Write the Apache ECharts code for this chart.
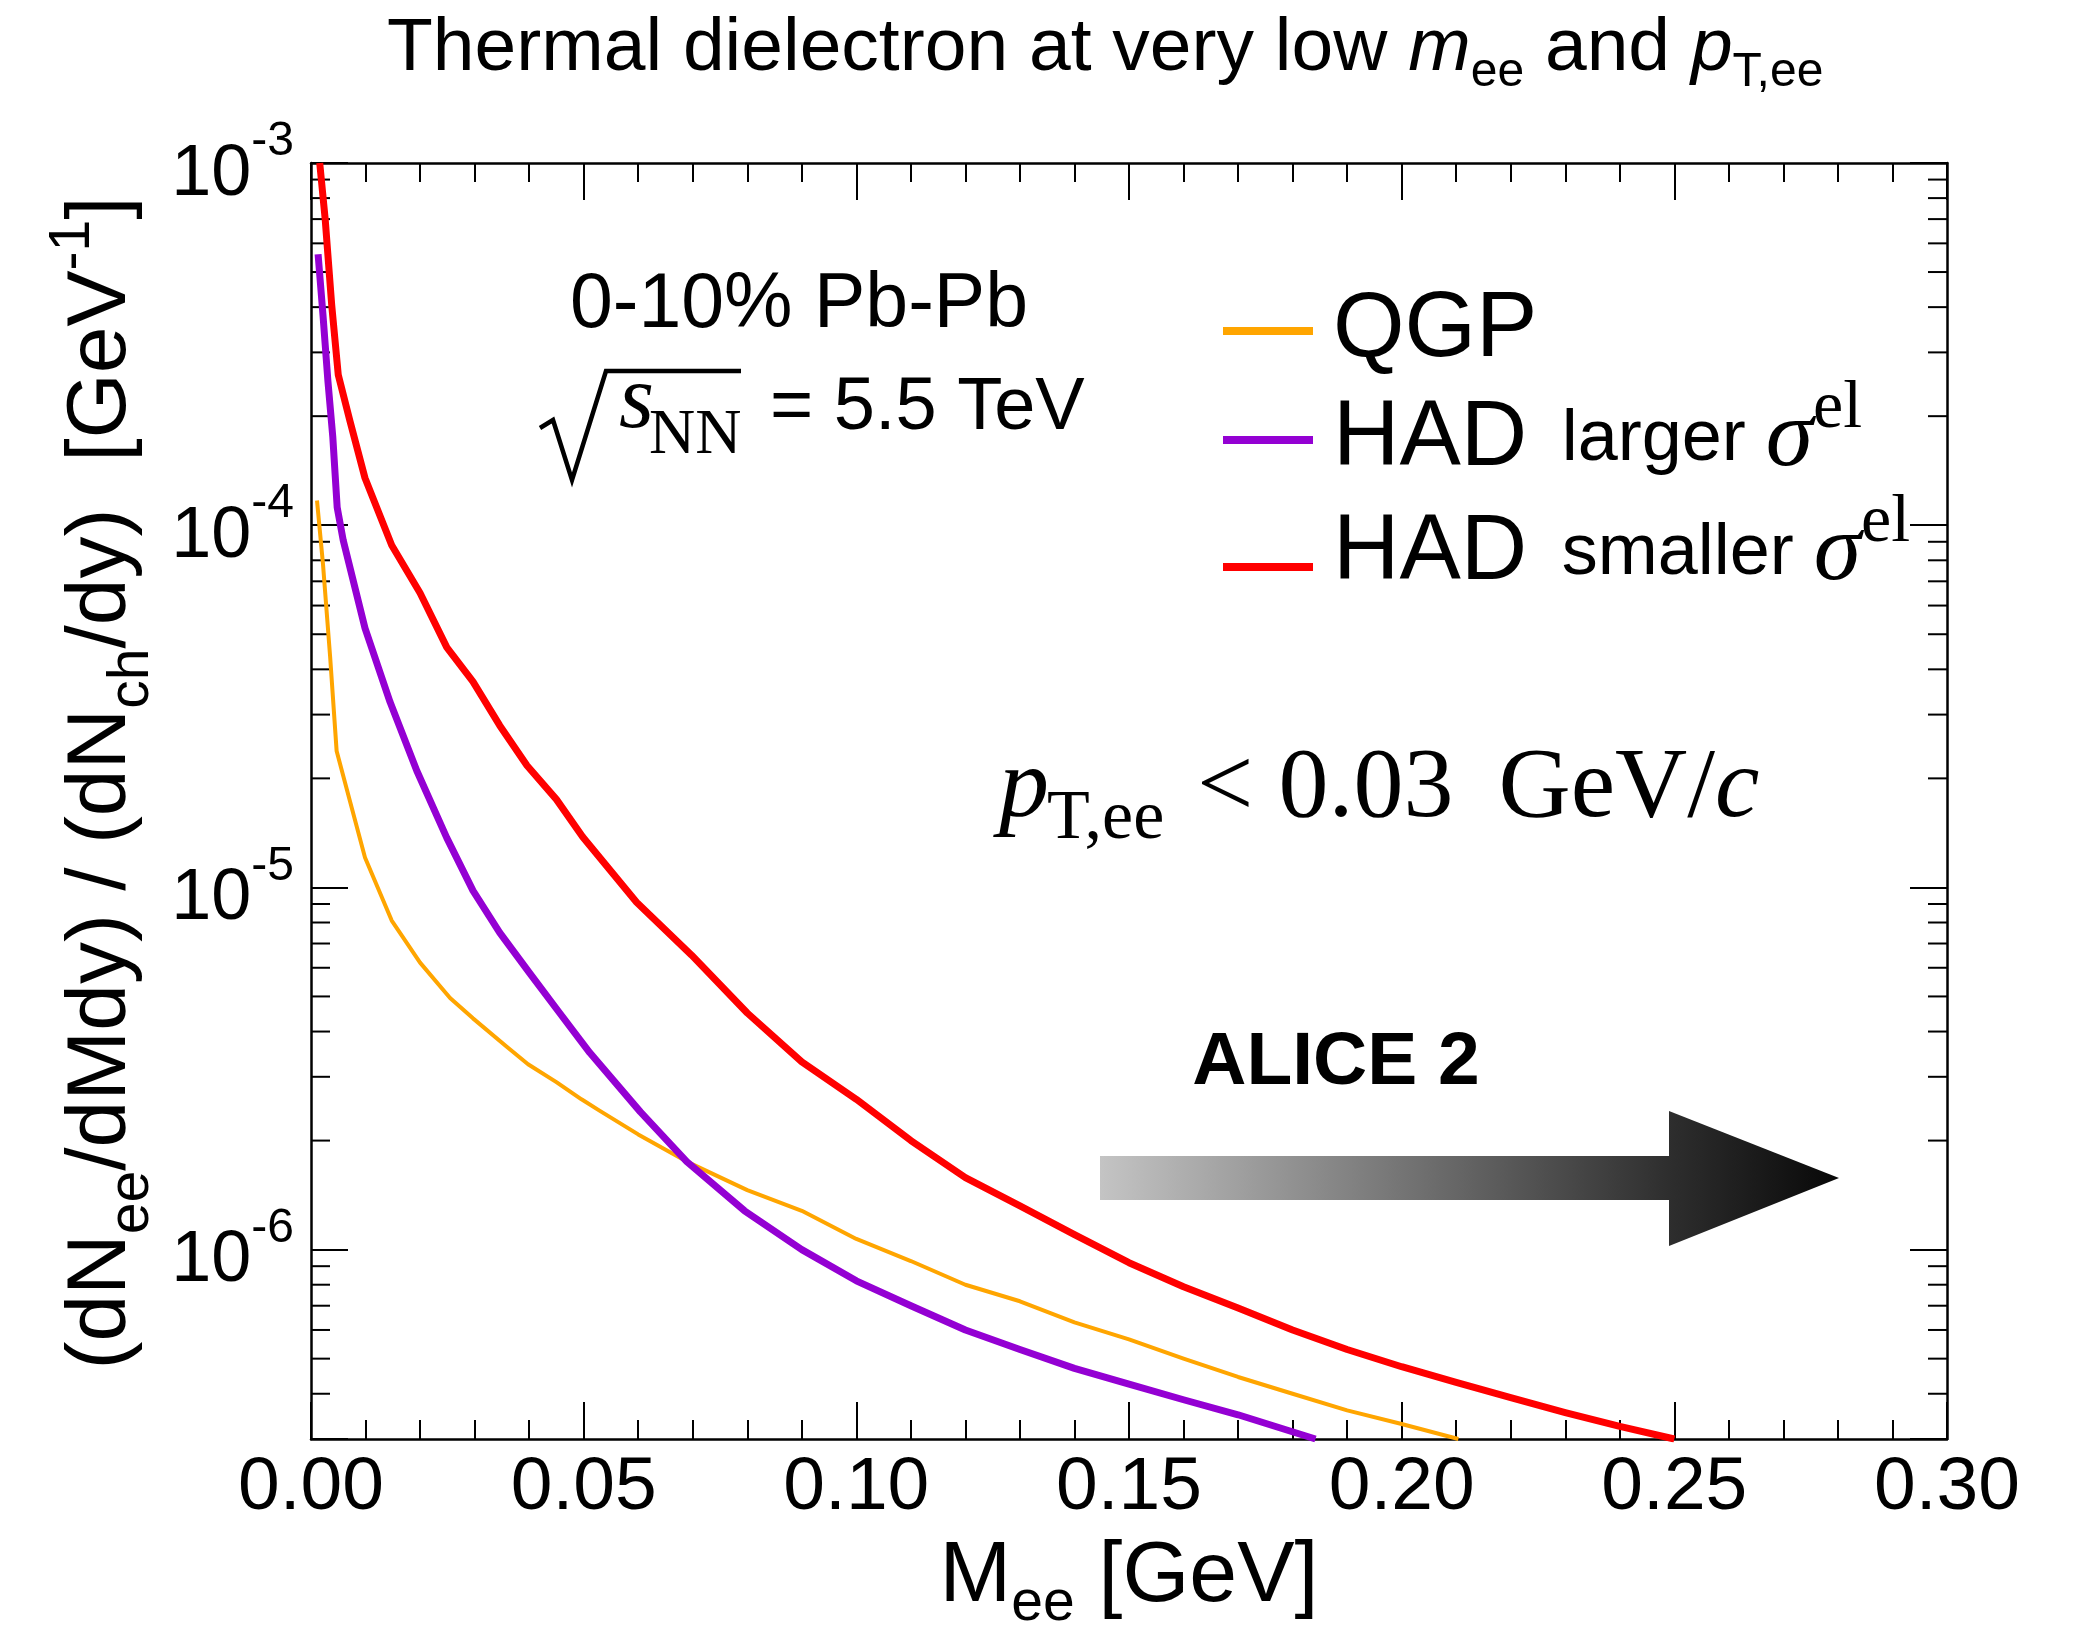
<!DOCTYPE html>
<html><head><meta charset="utf-8">
<script src="https://cdn.jsdelivr.net/npm/echarts@6/dist/echarts.min.js"></script>
<style>html,body{margin:0;padding:0;background:#fff}#c{width:2074px;height:1629px}</style>
</head><body><div id="c"></div>
<script>
// ---------- data ----------
const xTickLabels = ['0.00', '0.05', '0.10', '0.15', '0.20', '0.25', '0.30'];
const yDecades = [-6, -5, -4, -3];
const yMinorTicks = [4e-7, 5e-7, 6e-7, 7e-7, 8e-7, 9e-7,
  2e-6, 3e-6, 4e-6, 5e-6, 6e-6, 7e-6, 8e-6, 9e-6,
  2e-5, 3e-5, 4e-5, 5e-5, 6e-5, 7e-5, 8e-5, 9e-5,
  2e-4, 3e-4, 4e-4, 5e-4, 6e-4, 7e-4, 8e-4, 9e-4];

const seriesNames = ['QGP', 'HAD larger σel', 'HAD smaller σel'];

const mQGP = [0.0011, 0.0022, 0.0035, 0.0047, 0.0071, 0.0099, 0.0148, 0.020, 0.0255, 0.0297, 0.0359, 0.0398, 0.045, 0.0496, 0.0529, 0.060, 0.0689, 0.080, 0.090, 0.100, 0.110, 0.120, 0.130, 0.140, 0.150, 0.160, 0.170, 0.180, 0.190, 0.200, 0.2104];
const yQGP = [1.17e-4, 7.8e-5, 4.35e-5, 2.38e-5, 1.74e-5, 1.21e-5, 8.1e-6, 6.2e-6, 4.95e-6, 4.35e-6, 3.63e-6, 3.25e-6, 2.9e-6, 2.6e-6, 2.42e-6, 2.08e-6, 1.75e-6, 1.46e-6, 1.28e-6, 1.07e-6, 9.3e-7, 8.0e-7, 7.2e-7, 6.3e-7, 5.65e-7, 5.0e-7, 4.45e-7, 4.0e-7, 3.6e-7, 3.3e-7, 3.0e-7];

const mHADlarger = [0.0013, 0.0022, 0.0031, 0.0040, 0.0048, 0.0059, 0.0099, 0.0145, 0.0194, 0.0249, 0.0297, 0.0346, 0.0401, 0.0456, 0.0511, 0.0604, 0.0689, 0.0795, 0.090, 0.100, 0.110, 0.120, 0.130, 0.140, 0.150, 0.160, 0.170, 0.1842];
const yHADlarger = [5.6e-4, 3.8e-4, 2.5e-4, 1.75e-4, 1.12e-4, 9.1e-5, 5.2e-5, 3.25e-5, 2.1e-5, 1.37e-5, 9.8e-6, 7.5e-6, 5.8e-6, 4.5e-6, 3.5e-6, 2.4e-6, 1.75e-6, 1.28e-6, 1.0e-6, 8.2e-7, 7.0e-7, 6.0e-7, 5.3e-7, 4.7e-7, 4.25e-7, 3.85e-7, 3.5e-7, 3.0e-7];

const mHADsmaller = [0.0016, 0.0026, 0.0038, 0.0050, 0.0071, 0.0099, 0.0148, 0.020, 0.0249, 0.0297, 0.0346, 0.0396, 0.045, 0.0498, 0.0597, 0.0698, 0.080, 0.090, 0.100, 0.110, 0.120, 0.130, 0.140, 0.150, 0.160, 0.170, 0.180, 0.190, 0.200, 0.210, 0.220, 0.230, 0.240, 0.250];
const yHADsmaller = [1.0e-3, 7.0e-4, 4.05e-4, 2.6e-4, 1.95e-4, 1.35e-4, 8.8e-5, 6.5e-5, 4.6e-5, 3.7e-5, 2.8e-5, 2.17e-5, 1.75e-5, 1.38e-5, 9.1e-6, 6.5e-6, 4.5e-6, 3.3e-6, 2.6e-6, 2.0e-6, 1.58e-6, 1.32e-6, 1.1e-6, 9.2e-7, 7.9e-7, 6.9e-7, 6.0e-7, 5.3e-7, 4.75e-7, 4.3e-7, 3.9e-7, 3.55e-7, 3.25e-7, 3.0e-7];

// ---------- styling ----------
const SANS = "'Liberation Sans', Arial, Helvetica, sans-serif";
const SERIF = "'Liberation Serif', 'Times New Roman', Times, serif";
const colors = ['#FFA500', '#9400D3', '#FF0000'];
const widths = [4, 7, 7];

const pairs = (xs, ys) => xs.map((x, i) => [x, ys[i]]);
const seriesData = [pairs(mQGP, yQGP), pairs(mHADlarger, yHADlarger), pairs(mHADsmaller, yHADsmaller)];

const chart = echarts.init(document.getElementById('c'), null, {renderer: 'canvas', width: 2074, height: 1629});

const legendRich = {
  big: {fontSize: 92, fontFamily: SANS, lineHeight: 130, color: '#000'},
  mid: {fontSize: 72, fontFamily: SANS, lineHeight: 130, color: '#000'},
  sig: {fontSize: 96, fontFamily: SERIF, fontStyle: 'italic', lineHeight: 130, color: '#000'},
  sup: {fontSize: 68, fontFamily: SERIF, verticalAlign: 'top', lineHeight: 130, color: '#000'}
};
const legendText = {
  'QGP': '{big|QGP}',
  'HAD larger σel': '{big|HAD}{mid|\u2009 larger }{sig|σ}{sup|el}',
  'HAD smaller σel': '{big|HAD}{mid|\u2009 smaller }{sig|σ}{sup|el}'
};
const legendTops = [285, 375, 489];
const legendPads = [[0, 0, 0, 15], [0, 0, 0, 15], [0, 0, 26, 15]];

const axisLineStyle = {color: '#000', width: 2.5};
const tickStyle = {color: '#000', width: 2};

const option = {
  animation: false,
  backgroundColor: '#fff',
  textStyle: {fontFamily: SANS, color: '#000'},
  title: {
    text: '{n|Thermal dielectron at very low }{i|m}{s|ee}{n| and }{i|p}{s|T,ee}',
    left: 387, top: 1, padding: 0,
    textStyle: {
      rich: {
        n: {fontSize: 75, fontFamily: SANS, fontWeight: 'normal', lineHeight: 96, color: '#000'},
        i: {fontSize: 75, fontFamily: SANS, fontStyle: 'italic', fontWeight: 'normal', lineHeight: 96, color: '#000'},
        s: {fontSize: 48, fontFamily: SANS, fontWeight: 'normal', verticalAlign: 'bottom', lineHeight: 96, color: '#000'}
      }
    }
  },
  legend: seriesNames.map((nm, i) => ({
    data: [nm], orient: 'vertical', left: 1223, top: legendTops[i], padding: 0,
    icon: 'rect', itemWidth: 90, itemHeight: 8, selectedMode: false,
    formatter: n => legendText[n],
    textStyle: {color: '#000', fontFamily: SANS, padding: legendPads[i], rich: legendRich}
  })),
  grid: {left: 311, top: 163, width: 1636, height: 1276, containLabel: false, outerBoundsMode: 'none'},
  xAxis: [{
    type: 'value', position: 'bottom', min: 0, max: 0.3, interval: 0.05,
    axisLine: {show: true, onZero: false, lineStyle: axisLineStyle},
    axisTick: {show: true, inside: true, length: 37, lineStyle: tickStyle},
    minorTick: {show: true, splitNumber: 5, length: 19, lineStyle: tickStyle},
    splitLine: {show: false},
    axisLabel: {fontSize: 75, fontFamily: SANS, color: '#000', margin: 12,
      formatter: v => xTickLabels[Math.round(v / 0.05)] || ''},
    name: '{m|M}{sub|ee}{m| [GeV]}', nameLocation: 'middle', nameGap: 82,
    nameTextStyle: {rich: {
      m: {fontSize: 86, fontFamily: SANS, lineHeight: 112, color: '#000'},
      sub: {fontSize: 57, fontFamily: SANS, verticalAlign: 'bottom', lineHeight: 112, color: '#000'}
    }}
  }, {
    type: 'value', position: 'top', min: 0, max: 0.3, interval: 0.05,
    axisLine: {show: true, onZero: false, lineStyle: axisLineStyle},
    axisTick: {show: true, inside: true, length: 37, lineStyle: tickStyle},
    minorTick: {show: true, splitNumber: 5, length: 19, lineStyle: tickStyle},
    splitLine: {show: false}, axisLabel: {show: false}
  }],
  yAxis: [{
    type: 'log', logBase: 10, position: 'left', min: 3e-7, max: 1e-3,
    axisLine: {show: true, onZero: false, lineStyle: axisLineStyle},
    axisTick: {show: true, inside: true, length: 37, lineStyle: tickStyle},
    minorTick: {show: false},
    splitLine: {show: false},
    axisLabel: {
      margin: 17, color: '#000',
      formatter: v => {
        const l = Math.log10(v), e = Math.round(l);
        if (Math.abs(l - e) > 1e-6 || yDecades.indexOf(e) < 0) return '';
        return '{b|10}{s|' + e + '}';
      },
      rich: {
        b: {fontSize: 72, fontFamily: SANS, lineHeight: 96, verticalAlign: 'bottom', color: '#000'},
        s: {fontSize: 48, fontFamily: SANS, lineHeight: 96, verticalAlign: 'top', padding: [3, 0, 0, 0], color: '#000'}
      }
    },
    name: '{m|(dN}{sub|ee}{m|/dMdy) / (dN}{sub|ch}{m|/dy)  [GeV}{sup|-1}{m|]}',
    nameLocation: 'middle', nameGap: 126, nameRotate: 90,
    nameTextStyle: {padding: [0, 0, 0, 36], rich: {
      m: {fontSize: 84, fontFamily: SANS, lineHeight: 116, color: '#000'},
      sub: {fontSize: 57, fontFamily: SANS, verticalAlign: 'bottom', lineHeight: 116, color: '#000'},
      sup: {fontSize: 57, fontFamily: SANS, verticalAlign: 'top', lineHeight: 116, color: '#000'}
    }}
  }, {
    type: 'log', logBase: 10, position: 'right', min: 3e-7, max: 1e-3,
    axisLine: {show: true, onZero: false, lineStyle: axisLineStyle},
    axisTick: {show: true, inside: true, length: 37, lineStyle: tickStyle},
    minorTick: {show: false}, splitLine: {show: false}, axisLabel: {show: false}
  }],
  series: [
    ...seriesNames.map((nm, i) => ({
      name: nm, type: 'line', xAxisIndex: 0, yAxisIndex: 0,
      data: seriesData[i], showSymbol: false, symbol: 'none', smooth: false,
      color: colors[i],
      lineStyle: {color: colors[i], width: widths[i], join: 'round'},
      z: 3 + i
    })),
    {
      name: 'yMinorTicks', type: 'custom', xAxisIndex: 0, yAxisIndex: 0, silent: true, z: 2,
      data: yMinorTicks.map(v => [0, v]),
      renderItem: (params, api) => {
        const v = api.value(1);
        const pl = api.coord([0, v]);
        const pr = api.coord([0.3, v]);
        return {type: 'group', children: [
          {type: 'line', shape: {x1: pl[0], y1: pl[1], x2: pl[0] + 19, y2: pl[1]}, style: {stroke: '#000', lineWidth: 2}},
          {type: 'line', shape: {x1: pr[0] - 19, y1: pr[1], x2: pr[0], y2: pr[1]}, style: {stroke: '#000', lineWidth: 2}}
        ]};
      }
    }
  ],
  graphic: [
    {type: 'text', x: 799, y: 306, style: {text: '0-10% Pb-Pb', fontSize: 77, fontFamily: SANS, fill: '#000', align: 'center', verticalAlign: 'middle'}},
    {type: 'polyline', shape: {points: [[540, 428], [553, 420], [572, 480], [606, 371], [741, 371]]}, style: {stroke: '#000', lineWidth: 4.5, fill: null, lineJoin: 'miter'}},
    {type: 'text', x: 619, y: 403, style: {text: 's', fontSize: 90, fontFamily: SERIF, fontStyle: 'italic', fill: '#000', align: 'left', verticalAlign: 'middle'}},
    {type: 'text', x: 649, y: 436, style: {text: 'NN', fontSize: 64, fontFamily: SERIF, fill: '#000', align: 'left', verticalAlign: 'middle'}},
    {type: 'text', x: 770, y: 409, style: {text: '= 5.5 TeV', fontSize: 74, fontFamily: SANS, fill: '#000', align: 'left', verticalAlign: 'middle'}},
    {type: 'text', x: 999, y: 790, style: {text: 'p', fontSize: 100, fontFamily: SERIF, fontStyle: 'italic', fill: '#000', align: 'left', verticalAlign: 'middle'}},
    {type: 'text', x: 1047, y: 820, style: {text: 'T,ee', fontSize: 70, fontFamily: SERIF, fill: '#000', align: 'left', verticalAlign: 'middle'}},
    {type: 'text', x: 1197, y: 790, style: {text: '{r|< 0.03 \u2009GeV/}{i|c}', fontSize: 100, fontFamily: SERIF, fill: '#000', align: 'left', verticalAlign: 'middle',
      rich: {r: {fontSize: 100, fontFamily: SERIF, fill: '#000'}, i: {fontSize: 100, fontFamily: SERIF, fontStyle: 'italic', fill: '#000'}}}},
    {type: 'text', x: 1336, y: 1063, style: {text: 'ALICE 2', fontSize: 75, fontWeight: 'bold', fontFamily: SANS, fill: '#000', align: 'center', verticalAlign: 'middle'}},
    {type: 'rect', shape: {x: 1100, y: 1156, width: 570, height: 44},
      style: {fill: {type: 'linear', x: 1100, y: 0, x2: 1839, y2: 0, global: true,
        colorStops: [{offset: 0, color: '#c4c4c4'}, {offset: 0.77, color: '#2e2e2e'}, {offset: 1, color: '#080808'}]}}},
    {type: 'polygon', shape: {points: [[1669, 1111], [1839, 1178], [1669, 1246]]},
      style: {fill: {type: 'linear', x: 1100, y: 0, x2: 1839, y2: 0, global: true,
        colorStops: [{offset: 0, color: '#c4c4c4'}, {offset: 0.77, color: '#2e2e2e'}, {offset: 1, color: '#080808'}]}}}
  ]
};
chart.setOption(option);
</script></body></html>
